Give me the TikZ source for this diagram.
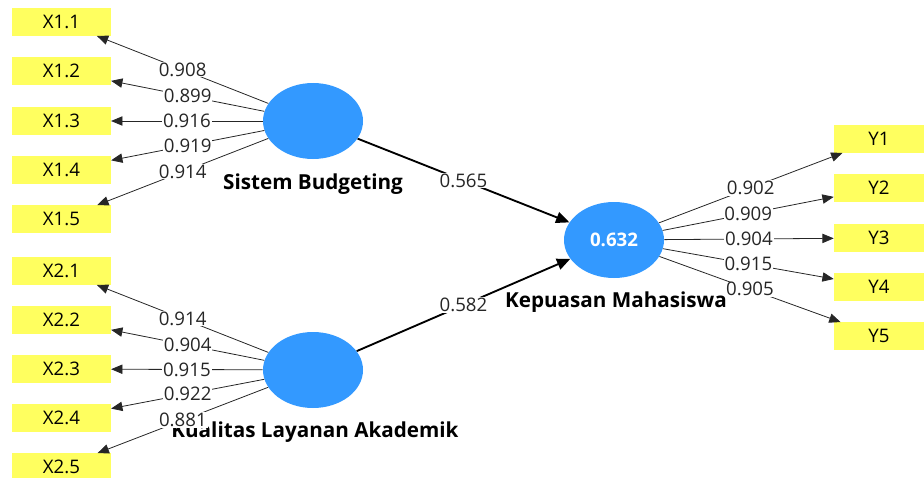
\documentclass[tikz,border=0pt]{standalone}
\usepackage{fontspec}
\setmainfont{Open Sans}
\usepackage{tikz}
\usetikzlibrary{arrows.meta,shapes.geometric}
\definecolor{BiruLaten}{RGB}{51,153,255}
\definecolor{KuningIndikator}{RGB}{255,255,95}

\begin{document}
\begin{tikzpicture}[x=0.75pt,y=-0.75pt,
  laten/.style={ellipse,fill=BiruLaten,minimum width=75pt,minimum height=57pt,inner sep=0pt,text=white,font=\bfseries\fontsize{14}{16}\selectfont},
  indikator/.style={rectangle,fill=KuningIndikator,minimum width=74pt,minimum height=20.5pt,inner sep=0pt,font=\fontsize{14}{16}\selectfont},
  judul/.style={font=\bfseries\fontsize{15.5}{17}\selectfont},
  muatan/.style={-{Triangle[length=8.5pt,width=7pt]},line width=0.6pt,black!85},
  jalur/.style={-{Triangle[length=10pt,width=8.5pt]},line width=1.4pt},
  nilai/.style={fill=white,inner sep=0.6pt,text=black!85,font=\fontsize{14}{16}\selectfont}]
  \useasboundingbox (0,0) rectangle (924,478);

  \node[laten] (SB) at (313,121) {};
  \node[laten] (KLA) at (313,370) {};
  \node[laten] (KM) at (614,240) {0.632};
  \node[judul] (SBjudul) at (313,184) {Sistem Budgeting};
  \node[judul] (KLAjudul) at (315,432) {Kualitas Layanan Akademik};
  \node[judul] (KMjudul) at (616,302) {Kepuasan Mahasiswa};

  \node[indikator] (X11) at (61.5,22) {X1.1};
  \node[indikator] (X12) at (61.5,71) {X1.2};
  \node[indikator] (X13) at (61.5,121) {X1.3};
  \node[indikator] (X14) at (61.5,170) {X1.4};
  \node[indikator] (X15) at (61.5,219) {X1.5};
  \node[indikator] (X21) at (61.5,271) {X2.1};
  \node[indikator] (X22) at (61.5,320) {X2.2};
  \node[indikator] (X23) at (61.5,369) {X2.3};
  \node[indikator] (X24) at (61.5,418) {X2.4};
  \node[indikator] (X25) at (61.5,467) {X2.5};
  \node[indikator,minimum width=67.5pt] (Y1) at (879,139) {Y1};
  \node[indikator,minimum width=67.5pt] (Y2) at (879,188) {Y2};
  \node[indikator,minimum width=67.5pt] (Y3) at (879,238) {Y3};
  \node[indikator,minimum width=67.5pt] (Y4) at (879,287) {Y4};
  \node[indikator,minimum width=67.5pt] (Y5) at (879,336) {Y5};

  \draw[muatan] (SB) -- node[nilai] {0.908} (X11);
  \draw[muatan] (SB) -- node[nilai] {0.899} (X12);
  \draw[muatan] (SB) -- node[nilai] {0.916} (X13);
  \draw[muatan] (SB) -- node[nilai] {0.919} (X14);
  \draw[muatan] (SB) -- node[nilai] {0.914} (X15);

  \draw[muatan] (KLA) -- node[nilai] {0.914} (X21);
  \draw[muatan] (KLA) -- node[nilai] {0.904} (X22);
  \draw[muatan] (KLA) -- node[nilai] {0.915} (X23);
  \draw[muatan] (KLA) -- node[nilai] {0.922} (X24);
  \draw[muatan] (KLA) -- node[nilai] {0.881} (X25);

  \draw[muatan] (KM) -- node[nilai] {0.902} (Y1);
  \draw[muatan] (KM) -- node[nilai] {0.909} (Y2);
  \draw[muatan] (KM) -- node[nilai] {0.904} (Y3);
  \draw[muatan] (KM) -- node[nilai] {0.915} (Y4);
  \draw[muatan] (KM) -- node[nilai] {0.905} (Y5);

  \draw[jalur] (SB) -- node[nilai] {0.565} (KM);
  \draw[jalur] (KLA) -- node[nilai] {0.582} (KM);
\end{tikzpicture}
\end{document}
